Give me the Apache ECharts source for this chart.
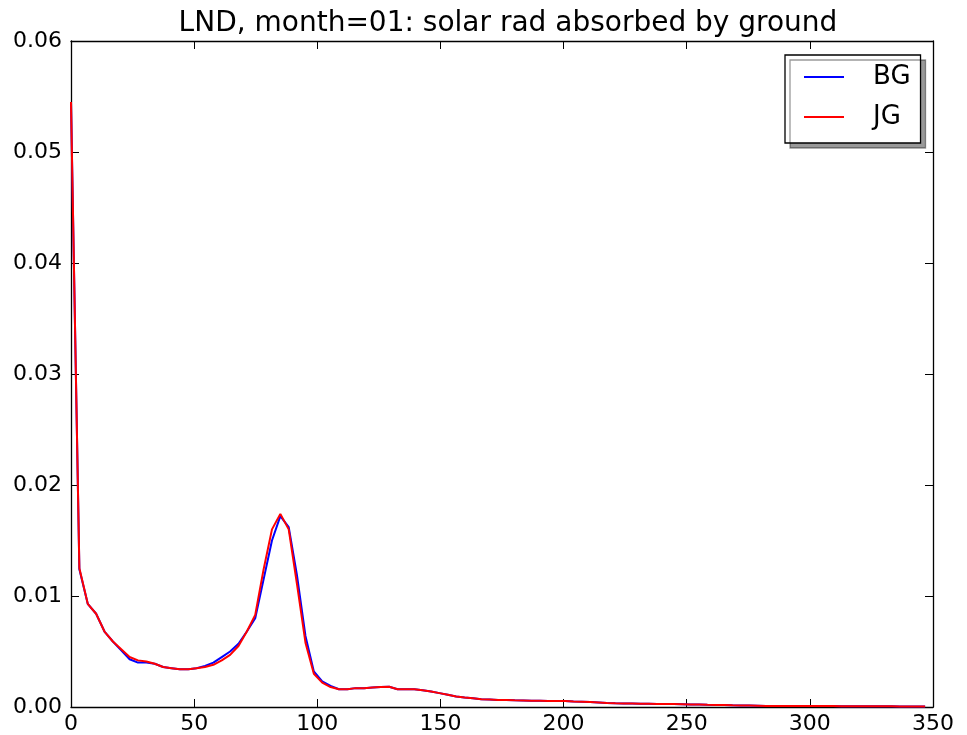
<!DOCTYPE html>
<html>
<head>
<meta charset="utf-8">
<title>LND, month=01: solar rad absorbed by ground</title>
<script src="https://cdn.jsdelivr.net/npm/echarts@6/dist/echarts.min.js"></script>
<style>
  html, body { margin: 0; padding: 0; background: #ffffff; }
  #chart { width: 967px; height: 735px; }
</style>
</head>
<body>
<div id="chart"></div>
<script>
// Sample positions along the horizontal axis
const xValues = [
  0, 3.4, 6.8, 10.2, 13.6, 17, 20.4, 23.8, 27.2, 30.6,
  34, 37.4, 40.8, 44.2, 47.6, 51, 54.4, 57.8, 61.2, 64.6,
  68, 71.4, 74.8, 78.2, 81.6, 85, 88.4, 91.8, 95.2, 98.6,
  102, 105.4, 108.8, 112.2, 115.6, 119, 122.4, 125.8, 129.2, 132.6,
  136, 139.4, 142.8, 146.2, 149.6, 153, 156.4, 159.8, 163.2, 166.6,
  170, 173.4, 176.8, 180.2, 183.6, 187, 190.4, 193.8, 197.2, 200.6,
  204, 207.4, 210.8, 214.2, 217.6, 221, 224.4, 227.8, 231.2, 234.6,
  238, 241.4, 244.8, 248.2, 251.6, 255, 258.4, 261.8, 265.2, 268.6,
  272, 275.4, 278.8, 282.2, 285.6, 289, 292.4, 295.8, 299.2, 302.6,
  306, 309.4, 312.8, 316.2, 319.6, 323, 326.4, 329.8, 333.2, 336.6,
  340, 343.4, 346.8
];

// BG: solar radiation absorbed by ground
const bgValues = [
  0.0545, 0.0124, 0.0093, 0.0084, 0.0068, 0.0059, 0.0051, 0.0043, 0.0040, 0.0040,
  0.0039, 0.0036, 0.0035, 0.0034, 0.0034, 0.0035, 0.0037, 0.0040, 0.0045, 0.0050,
  0.0057, 0.0068, 0.0080, 0.0115, 0.0150, 0.0172, 0.0162, 0.0118, 0.0064, 0.0032,
  0.0023, 0.0019, 0.0016, 0.0016, 0.0017, 0.0017, 0.00175, 0.0018, 0.00183, 0.0016,
  0.0016, 0.0016, 0.0015, 0.0014, 0.00125, 0.0011, 0.00095, 0.00085, 0.00078, 0.0007,
  0.00067, 0.00064, 0.00062, 0.0006, 0.00059, 0.00057, 0.00056, 0.00055, 0.00054, 0.00053,
  0.0005, 0.00048, 0.00045, 0.00041, 0.00037, 0.00034, 0.00032, 0.00031, 0.0003, 0.00029,
  0.00028, 0.00027, 0.00026, 0.00025, 0.00023, 0.00022, 0.0002, 0.00019, 0.00017, 0.00015,
  0.00014, 0.00013, 0.00012, 0.0001, 0.0001, 0.0001, 0.00009, 0.00009, 0.00009, 0.00008,
  0.00008, 0.00008, 0.00007, 0.00007, 0.00007, 0.00006, 0.00006, 0.00006, 0.00006, 0.00005,
  0.00005, 0.00005, 0.00005
];

// JG: solar radiation absorbed by ground
const jgValues = [
  0.0545, 0.0125, 0.0093, 0.0084, 0.0068, 0.0059, 0.0052, 0.0045, 0.0042, 0.0041,
  0.0039, 0.0036, 0.0035, 0.0034, 0.0034, 0.0035, 0.0036, 0.0038, 0.0042, 0.0047,
  0.0055, 0.0068, 0.0083, 0.0124, 0.0160, 0.0174, 0.0160, 0.0110, 0.0058, 0.0030,
  0.0022, 0.0018, 0.0016, 0.0016, 0.0017, 0.0017, 0.00175, 0.0018, 0.00183, 0.0016,
  0.0016, 0.0016, 0.0015, 0.0014, 0.00125, 0.0011, 0.00095, 0.00085, 0.00078, 0.0007,
  0.00067, 0.00064, 0.00062, 0.0006, 0.00059, 0.00057, 0.00056, 0.00055, 0.00054, 0.00053,
  0.0005, 0.00048, 0.00045, 0.00041, 0.00037, 0.00034, 0.00032, 0.00031, 0.0003, 0.00029,
  0.00028, 0.00027, 0.00026, 0.00025, 0.00023, 0.00022, 0.0002, 0.00019, 0.00017, 0.00015,
  0.00014, 0.00013, 0.00012, 0.0001, 0.0001, 0.0001, 0.00009, 0.00009, 0.00009, 0.00008,
  0.00008, 0.00008, 0.00007, 0.00007, 0.00007, 0.00006, 0.00006, 0.00006, 0.00006, 0.00005,
  0.00005, 0.00005, 0.00005
];

const seriesNames = ['BG', 'JG'];
const seriesColors = ['#0000ff', '#ff0000'];
const chartTitle = 'LND, month=01: solar rad absorbed by ground';

const xMin = 0, xMax = 350, xStep = 50;
const yMin = 0, yMax = 0.06, yStep = 0.01;

const FONT = 'DejaVu Sans';

function pairs(xs, ys) {
  return xs.map((x, i) => [x, ys[i]]);
}

const axisLine = { show: true, onZero: false, lineStyle: { color: '#000', width: 1.3 } };
const tickStyle = { show: true, inside: true, length: 8, lineStyle: { color: '#000', width: 1 } };

const chart = echarts.init(document.getElementById('chart'), null, { renderer: 'canvas' });

chart.setOption({
  animation: false,
  backgroundColor: '#ffffff',
  title: {
    text: chartTitle,
    left: 503,
    textAlign: 'center',
    top: 5,
    textStyle: { fontFamily: FONT, fontSize: 28, fontWeight: 'normal', color: '#000' }
  },
  legend: {
    data: seriesNames,
    orient: 'vertical',
    left: 785,
    top: 55,
    padding: [9, 10, 13, 19],
    itemGap: 14,
    itemWidth: 40,
    itemHeight: 2,
    icon: 'rect',
    backgroundColor: '#ffffff',
    borderColor: '#000',
    borderWidth: 1.3,
    borderRadius: 0,
    shadowColor: 'rgba(0,0,0,0.4)',
    shadowBlur: 0,
    shadowOffsetX: 5,
    shadowOffsetY: 5,
    textStyle: {
      fontFamily: FONT, fontSize: 26, color: '#000', lineHeight: 26,
      padding: [0, 0, 0, 24]
    }
  },
  grid: { left: 71, right: 34, top: 41, bottom: 27, containLabel: false },
  xAxis: [
    {
      type: 'value', position: 'bottom', min: xMin, max: xMax, interval: xStep,
      axisLine: axisLine, axisTick: tickStyle, splitLine: { show: false },
      axisLabel: { show: true, margin: 6, color: '#000', fontFamily: FONT, fontSize: 22 }
    },
    {
      type: 'value', position: 'top', min: xMin, max: xMax, interval: xStep,
      axisLine: axisLine, axisTick: tickStyle, splitLine: { show: false },
      axisLabel: { show: false }
    }
  ],
  yAxis: [
    {
      type: 'value', position: 'left', min: yMin, max: yMax, interval: yStep,
      axisLine: axisLine, axisTick: tickStyle, splitLine: { show: false },
      axisLabel: {
        show: true, margin: 9, color: '#000', fontFamily: FONT, fontSize: 22,
        formatter: v => v.toFixed(2)
      }
    },
    {
      type: 'value', position: 'right', min: yMin, max: yMax, interval: yStep,
      axisLine: axisLine, axisTick: tickStyle, splitLine: { show: false },
      axisLabel: { show: false }
    }
  ],
  series: [
    {
      name: seriesNames[0], type: 'line', xAxisIndex: 0, yAxisIndex: 0,
      data: pairs(xValues, bgValues),
      symbol: 'none', showSymbol: false,
      color: seriesColors[0],
      lineStyle: { color: seriesColors[0], width: 2 },
      z: 2
    },
    {
      name: seriesNames[1], type: 'line', xAxisIndex: 0, yAxisIndex: 0,
      data: pairs(xValues, jgValues),
      symbol: 'none', showSymbol: false,
      color: seriesColors[1],
      lineStyle: { color: seriesColors[1], width: 2 },
      z: 3
    }
  ]
});
</script>
</body>
</html>
